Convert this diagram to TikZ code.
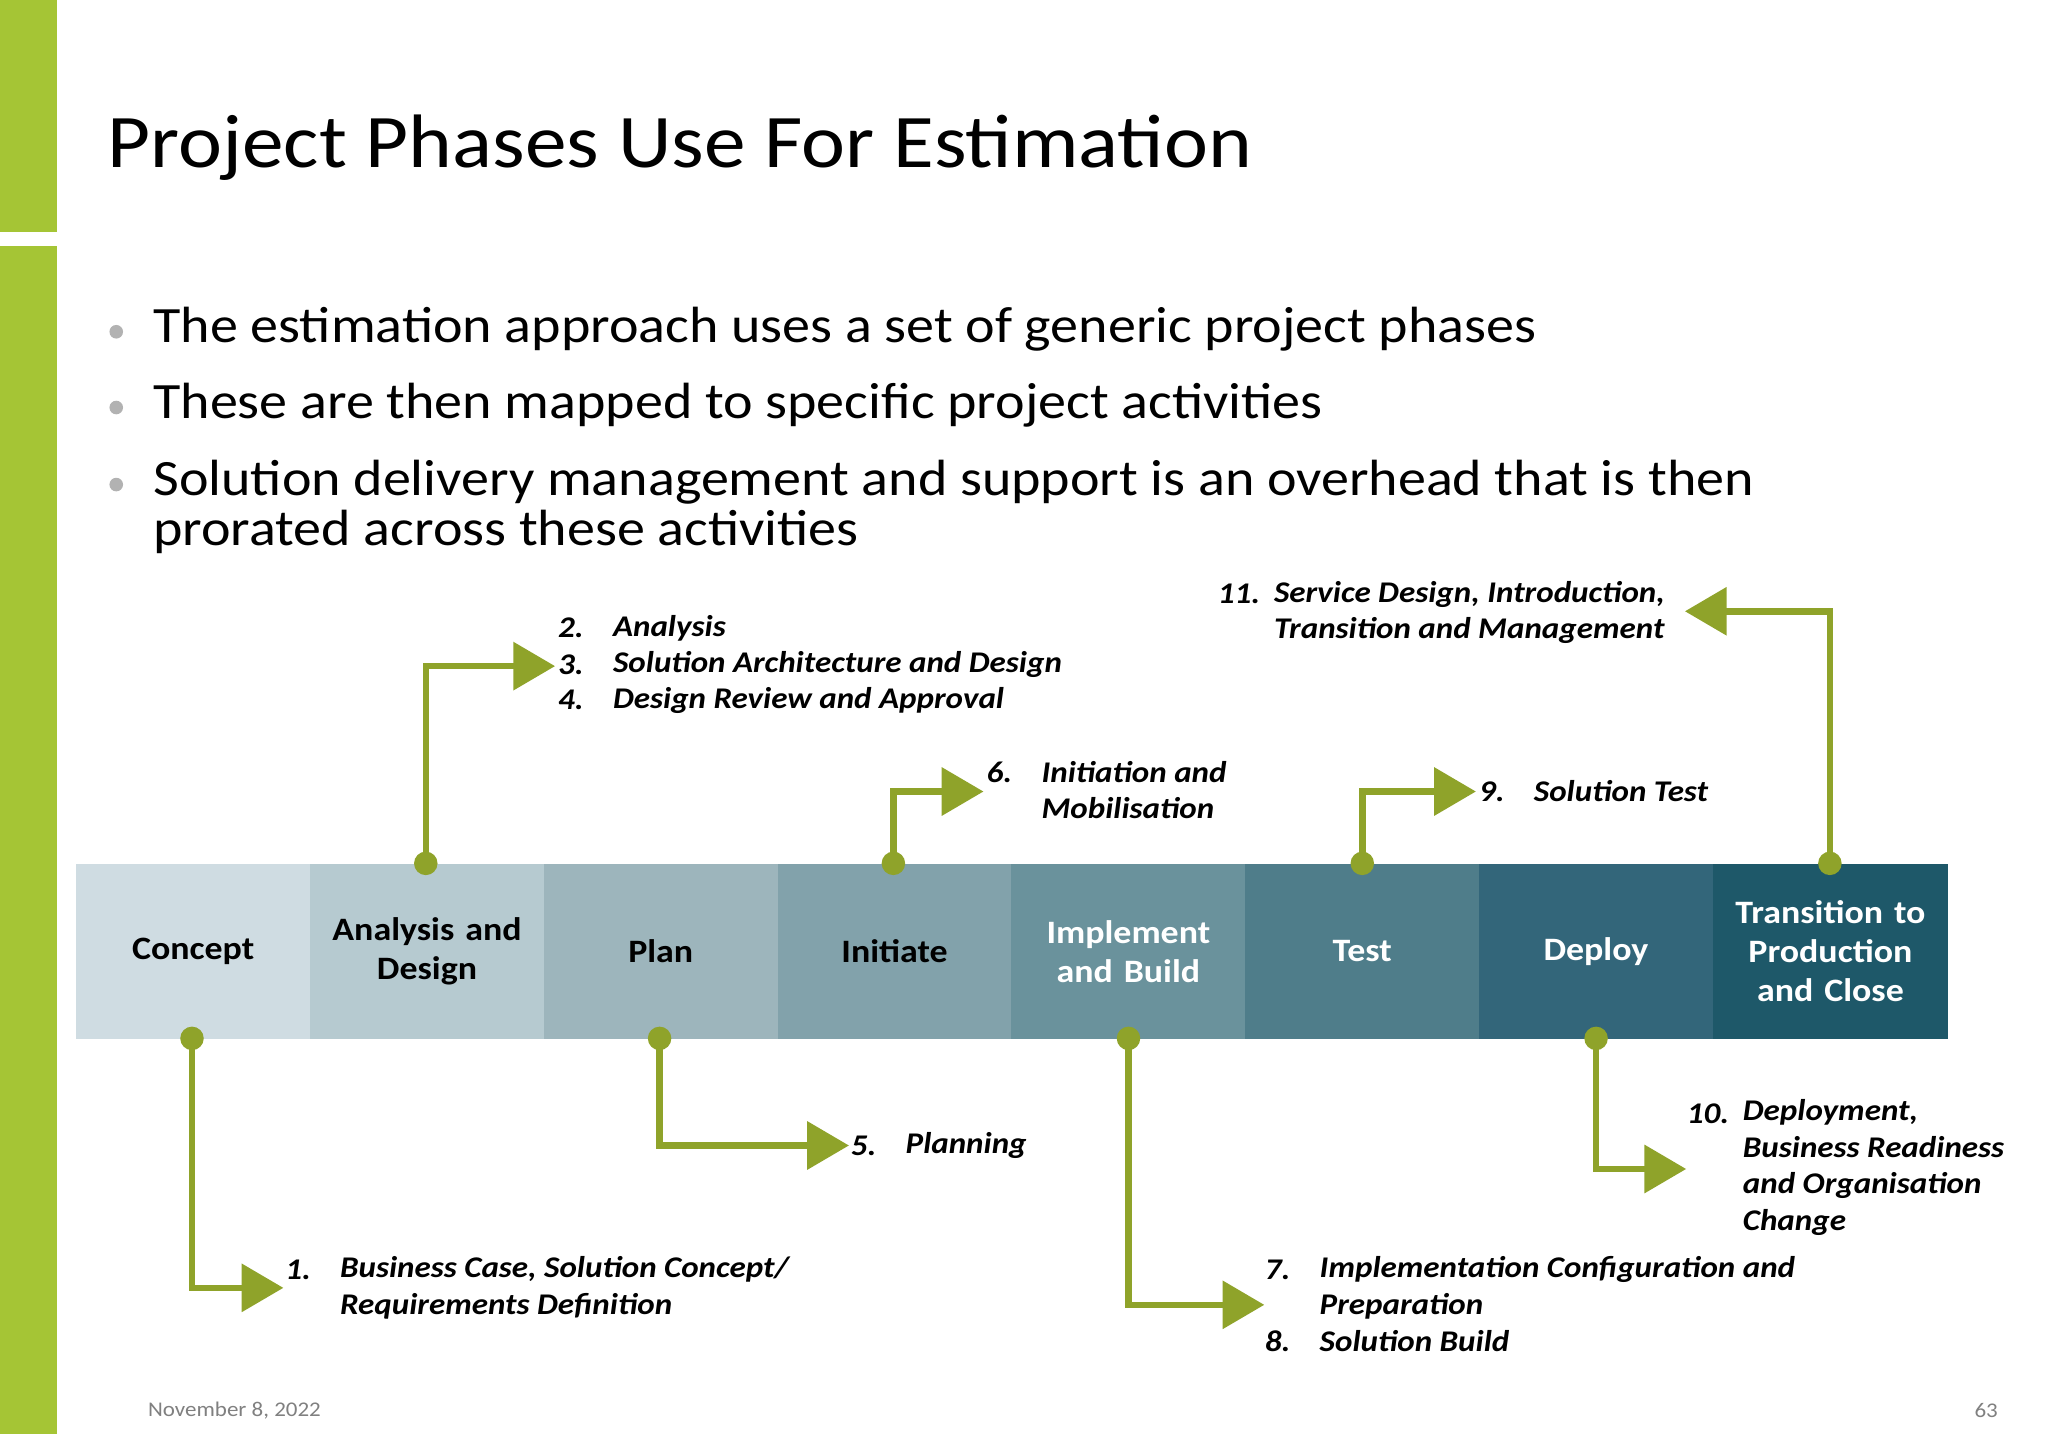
\documentclass[tikz,border=0pt]{standalone}
\usepackage{fontspec}
\setmainfont{Carlito}[FakeStretch=1.1]
\usetikzlibrary{arrows.meta}
\definecolor{lime}{HTML}{A5C535}
\definecolor{olive}{HTML}{8FA32A}
\definecolor{p1}{HTML}{CFDCE2}
\definecolor{p2}{HTML}{B6CAD0}
\definecolor{p3}{HTML}{9DB5BC}
\definecolor{p4}{HTML}{82A2AB}
\definecolor{p5}{HTML}{6A929C}
\definecolor{p6}{HTML}{4F7D8A}
\definecolor{p7}{HTML}{33667A}
\definecolor{p8}{HTML}{1E5869}
\begin{document}
\begin{tikzpicture}[x=0.5pt,y=-0.5pt,
  phase/.style={minimum width=89.5pt,minimum height=67pt,inner sep=0pt,align=center,font=\fontsize{12.5}{15}\selectfont\bfseries,anchor=north west,text width=86pt},
  lab/.style={anchor=west,inner sep=0pt,font=\fontsize{11.5}{14}\selectfont\bfseries\itshape,align=left},
  conn/.style={draw=olive,line width=2.5pt,-{Triangle[length=16pt,width=18pt]}},
  dot/.style={circle,fill=olive,minimum size=9pt,inner sep=0pt},
  bul/.style={anchor=west,inner sep=0pt,font=\fontsize{19.5}{19}\selectfont}]
\useasboundingbox (0,0) rectangle (1568,1098);
\fill[white] (0,0) rectangle (1568,1098);
\fill[lime] (0,0) rectangle (44,178);
\fill[lime] (0,188) rectangle (44,1098);
\node[anchor=base west,inner sep=0pt,font=\fontsize{29}{34}\selectfont] (title) at (82,128) {Project Phases Use For Estimation};
\foreach \y in {254,312,371}{\fill[gray!60] (89,\y) circle (2.6pt);}
\node[bul] (b1) at (117,252) {The estimation approach uses a set of generic project phases};
\node[bul] (b2) at (117,310) {These are then mapped to specific project activities};
\node[bul,align=left] (b3) at (117,388) {Solution delivery management and support is an overhead that is then\\[0pt]prorated across these activities};
% phases
\node[phase,fill=p1] (c) at (58,661) {Concept};
\node[phase,fill=p2] (a) at (237,661) {Analysis and\\Design};
\node[phase,fill=p3] (p) at (416,661) {Plan};
\node[phase,fill=p4] (i) at (595,661) {Initiate};
\node[phase,fill=p5,text=white] (m) at (774,661) {Implement\\and Build};
\node[phase,fill=p6,text=white] (t) at (953,661) {Test};
\node[phase,fill=p7,text=white] (d) at (1132,661) {Deploy};
\node[phase,fill=p8,text=white,minimum width=90pt] (tr) at (1311,661) {Transition to\\Production\\and Close};
% dots
\node[dot] (dc) at (147,795) {};
\node[dot] (da) at (326,661) {};
\node[dot] (dp) at (505,795) {};
\node[dot] (di) at (684,661) {};
\node[dot] (dm) at (864,795) {};
\node[dot] (dt) at (1043,661) {};
\node[dot] (dd) at (1222,795) {};
\node[dot] (dtr) at (1401,661) {};
% targets
\coordinate (ec) at (217,986);
\coordinate (ea) at (425,510);
\coordinate (ep) at (650,877);
\coordinate (ei) at (753,606);
\coordinate (em) at (968,999);
\coordinate (et) at (1130,606);
\coordinate (ed) at (1291,895);
\coordinate (etr) at (1290,468);
\draw[conn] (dc.center) |- (ec);
\draw[conn] (da.center) |- (ea);
\draw[conn] (dp.center) |- (ep);
\draw[conn] (di.center) |- (ei);
\draw[conn] (dm.center) |- (em);
\draw[conn] (dt.center) |- (et);
\draw[conn] (dd.center) |- (ed);
\draw[conn] (dtr.center) |- (etr);
% labels
\node[lab] (n1) at (218,972) {1.};
\node[lab] (l1) at (260,986) {Business Case, Solution Concept/\\Requirements Definition};
\node[lab] (n2) at (427,481) {2.};
\node[lab] (l2) at (469,481) {Analysis};
\node[lab] (n3) at (427,509) {3.};
\node[lab] (l3) at (469,509) {Solution Architecture and Design};
\node[lab] (n4) at (427,536) {4.};
\node[lab] (l4) at (469,536) {Design Review and Approval};
\node[lab] (n5) at (651,877) {5.};
\node[lab] (l5) at (693,877) {Planning};
\node[lab] (n6) at (755,591) {6.};
\node[lab] (l6) at (797,605) {Initiation and\\Mobilisation};
\node[lab] (n7) at (968,972) {7.};
\node[lab] (l7) at (1010,986) {Implementation Configuration and\\Preparation};
\node[lab] (n8) at (968,1027) {8.};
\node[lab] (l8) at (1010,1027) {Solution Build};
\node[lab] (n9) at (1132,606) {9.};
\node[lab] (l9) at (1174,606) {Solution Test};
\node[lab] (n10) at (1291,853) {10.};
\node[lab] (l10) at (1334,894) {Deployment,\\Business Readiness\\and Organisation\\Change};
\node[lab] (n11) at (932,455) {11.};
\node[lab] (l11) at (975,469) {Service Design, Introduction,\\Transition and Management};
\node[anchor=west,inner sep=0pt,text=gray,font=\fontsize{8}{9}\selectfont] (date) at (113,1080) {November 8, 2022};
\node[anchor=east,inner sep=0pt,text=gray,font=\fontsize{8}{9}\selectfont] (pg) at (1530,1080) {63};
\end{tikzpicture}
\end{document}
